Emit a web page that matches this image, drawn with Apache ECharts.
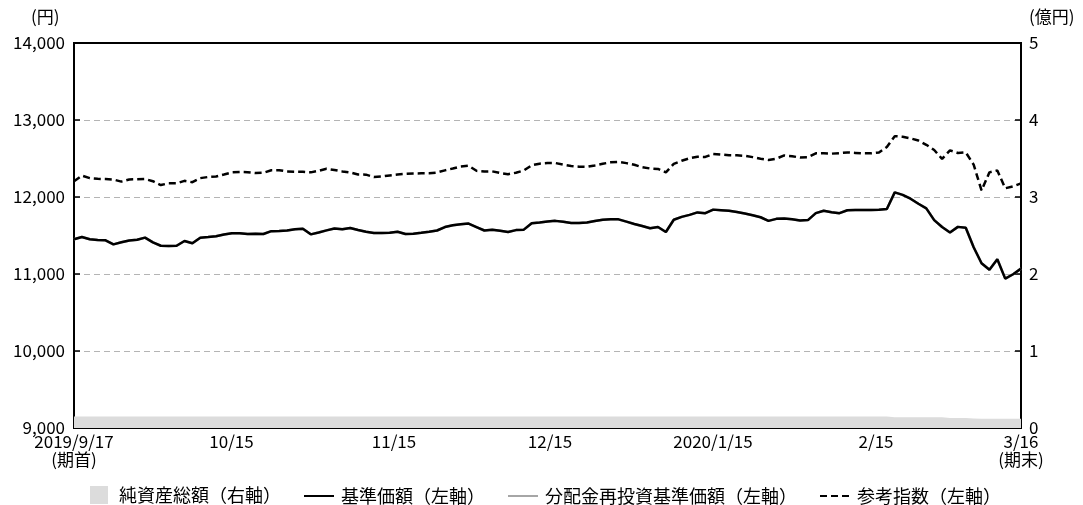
<!DOCTYPE html>
<html>
<head>
<meta charset="utf-8">
<script src="https://cdn.jsdelivr.net/npm/echarts@6/dist/echarts.min.js"></script>
<style>
  html, body { margin: 0; padding: 0; background: #fff; }
  #chart { width: 1083px; height: 505px; }
</style>
</head>
<body>
<div id="chart"></div>
<script>
const FONT = '"Noto Sans CJK JP", "Noto Sans", sans-serif'

// x軸: 営業日インデックス上の目盛り位置とラベル
const tickDays = [0, 19.96, 40.55, 60.32, 80.97, 101.63, 120]
const tickLabels = ['2019/9/17\n(期首)', '10/15', '11/15', '12/15', '2020/1/15', '2/15', '3/16\n(期末)']

// 基準価額（円）
const navValues = [
  11451, 11480, 11452, 11443, 11437, 11385, 11412, 11435, 11445, 11472,
  11410, 11367, 11364, 11367, 11428, 11400, 11472, 11480, 11490, 11512,
  11530, 11528, 11520, 11522, 11520, 11556, 11558, 11565, 11582, 11588,
  11515, 11540, 11567, 11592, 11580, 11598, 11572, 11548, 11532, 11532,
  11535, 11549, 11520, 11523, 11536, 11550, 11565, 11610, 11632, 11647,
  11655, 11610, 11565, 11575, 11562, 11546, 11570, 11576, 11660, 11670,
  11682, 11690, 11678, 11662, 11662, 11670, 11688, 11705, 11710, 11710,
  11680, 11650, 11623, 11595, 11610, 11545, 11705, 11742, 11768, 11800,
  11790, 11836, 11828, 11820, 11805, 11785, 11764, 11737, 11690, 11716,
  11722, 11712, 11694, 11700, 11790, 11822, 11803, 11790, 11828, 11831,
  11831, 11831, 11834, 11845, 12060, 12028, 11978, 11912, 11852, 11700,
  11610, 11540, 11612, 11600, 11347, 11140, 11055, 11191, 10940, 10997,
  11070
]

// 分配金再投資基準価額（円）: 分配なしのため基準価額と同じ
const reinvestValues = navValues.slice()

// 参考指数（円換算）
const refIndexValues = [
  12205, 12278, 12245, 12236, 12234, 12226, 12200, 12228, 12231, 12234,
  12205, 12155, 12178, 12178, 12210, 12192, 12245, 12260, 12266, 12292,
  12320, 12325, 12322, 12311, 12315, 12347, 12348, 12332, 12329, 12328,
  12320, 12340, 12366, 12350, 12332, 12318, 12292, 12290, 12260, 12266,
  12280, 12292, 12300, 12305, 12307, 12307, 12318, 12346, 12370, 12396,
  12406, 12340, 12331, 12333, 12312, 12296, 12315, 12345, 12412, 12433,
  12441, 12441, 12420, 12403, 12394, 12391, 12410, 12432, 12450, 12455,
  12440, 12418, 12388, 12370, 12365, 12320, 12430, 12470, 12503, 12522,
  12520, 12560, 12551, 12542, 12541, 12535, 12518, 12497, 12481, 12498,
  12540, 12530, 12512, 12515, 12567, 12567, 12563, 12570, 12579, 12573,
  12567, 12567, 12578, 12650, 12790, 12783, 12762, 12733, 12678, 12610,
  12495, 12605, 12572, 12580, 12420, 12085, 12320, 12345, 12113, 12138,
  12178
]

// 純資産総額（億円）
const netAssets = [
  0.15, 0.15, 0.15, 0.15, 0.15, 0.15, 0.15, 0.15, 0.15, 0.15,
  0.15, 0.15, 0.15, 0.15, 0.15, 0.15, 0.15, 0.15, 0.15, 0.15,
  0.15, 0.15, 0.15, 0.15, 0.15, 0.15, 0.15, 0.15, 0.15, 0.15,
  0.15, 0.15, 0.15, 0.15, 0.15, 0.15, 0.15, 0.15, 0.15, 0.15,
  0.15, 0.15, 0.15, 0.15, 0.15, 0.15, 0.15, 0.15, 0.15, 0.15,
  0.15, 0.15, 0.15, 0.15, 0.15, 0.15, 0.15, 0.15, 0.15, 0.15,
  0.15, 0.15, 0.15, 0.15, 0.15, 0.15, 0.15, 0.15, 0.15, 0.15,
  0.15, 0.15, 0.15, 0.15, 0.15, 0.15, 0.15, 0.15, 0.15, 0.15,
  0.15, 0.15, 0.15, 0.15, 0.15, 0.15, 0.15, 0.15, 0.15, 0.15,
  0.15, 0.15, 0.15, 0.15, 0.15, 0.15, 0.15, 0.15, 0.15, 0.15,
  0.15, 0.15, 0.15, 0.15, 0.14, 0.14, 0.14, 0.14, 0.14, 0.14,
  0.14, 0.13, 0.13, 0.13, 0.125, 0.12, 0.12, 0.12, 0.12, 0.12,
  0.12
]

const toPairs = (arr) => arr.map((v, i) => [i, v])

const chart = echarts.init(document.getElementById('chart'))

const labelStyle = { color: '#000', fontSize: 17, fontFamily: FONT }
const legendText = { color: '#000', fontSize: 18, fontFamily: FONT }

const option = {
  animation: false,
  backgroundColor: '#fff',
  grid: {
    left: 74, right: 62, top: 43, bottom: 77,
    containLabel: false,
    show: true,
    borderColor: '#000',
    borderWidth: 2,
    backgroundColor: 'transparent'
  },
  graphic: [
    { type: 'text', left: 31, top: 8, style: { text: '(円)', font: '17px ' + FONT, fill: '#000' } },
    { type: 'text', left: 1029, top: 8, style: { text: '(億円)', font: '17px ' + FONT, fill: '#000' } }
  ],
  legend: [
    {
      left: 90, top: 486, padding: 0,
      itemWidth: 18, itemHeight: 18,
      textStyle: Object.assign({ padding: [0, 0, 0, 6] }, legendText),
      data: [{ name: '純資産総額（右軸）', icon: 'rect' }]
    },
    {
      left: 303, top: 487, padding: 0,
      itemWidth: 30, itemHeight: 4, itemGap: 22,
      itemStyle: { opacity: 0 },
      textStyle: Object.assign({ padding: [0, 0, 0, 2] }, legendText),
      data: ['基準価額（左軸）', '分配金再投資基準価額（左軸）', '参考指数（左軸）']
    }
  ],
  xAxis: {
    type: 'value',
    min: 0,
    max: 120,
    axisLine: { lineStyle: { color: '#000', width: 2 } },
    axisTick: {
      inside: true, length: 6,
      customValues: tickDays,
      lineStyle: { color: '#000', width: 1.5 }
    },
    axisLabel: Object.assign({
      customValues: tickDays,
      margin: 5,
      lineHeight: 18,
      formatter: (v) => {
        let best = 0
        tickDays.forEach((d, i) => { if (Math.abs(d - v) < Math.abs(tickDays[best] - v)) best = i })
        return tickLabels[best]
      }
    }, labelStyle),
    splitLine: { show: false }
  },
  yAxis: [
    {
      type: 'value',
      min: 9000, max: 14000, interval: 1000,
      axisLine: { show: true, lineStyle: { color: '#000', width: 2 } },
      axisTick: { show: true, inside: true, length: 6, lineStyle: { color: '#000', width: 1.5 } },
      axisLabel: Object.assign({
        margin: 9,
        formatter: (v) => v.toLocaleString('en-US')
      }, labelStyle),
      splitLine: {
        show: true,
        showMinLine: false,
        showMaxLine: false,
        lineStyle: { color: '#b4b4b4', type: [6, 4], width: 1 }
      }
    },
    {
      type: 'value',
      position: 'right',
      min: 0, max: 5, interval: 1,
      axisLine: { show: true, lineStyle: { color: '#000', width: 2 } },
      axisTick: { show: true, inside: true, length: 6, lineStyle: { color: '#000', width: 1.5 } },
      axisLabel: Object.assign({ margin: 8 }, labelStyle),
      splitLine: { show: false }
    }
  ],
  series: [
    {
      name: '純資産総額（右軸）',
      type: 'line',
      yAxisIndex: 1,
      data: toPairs(netAssets),
      symbol: 'none',
      itemStyle: { color: '#dcdcdc' },
      lineStyle: { width: 0, color: '#dcdcdc' },
      areaStyle: { color: '#dcdcdc', opacity: 1 },
      z: 1
    },
    {
      name: '分配金再投資基準価額（左軸）',
      type: 'line',
      data: toPairs(reinvestValues),
      symbol: 'none',
      itemStyle: { color: '#a6a6a6' },
      lineStyle: { color: '#a6a6a6', width: 2.5 },
      z: 2
    },
    {
      name: '基準価額（左軸）',
      type: 'line',
      data: toPairs(navValues),
      symbol: 'none',
      itemStyle: { color: '#000' },
      lineStyle: { color: '#000', width: 2.5 },
      z: 3
    },
    {
      name: '参考指数（左軸）',
      type: 'line',
      data: toPairs(refIndexValues),
      symbol: 'none',
      itemStyle: { color: '#000' },
      lineStyle: { color: '#000', width: 2.5, type: [7, 4] },
      z: 4
    }
  ]
}

chart.setOption(option)
window.addEventListener('resize', () => chart.resize())
</script>
</body>
</html>
